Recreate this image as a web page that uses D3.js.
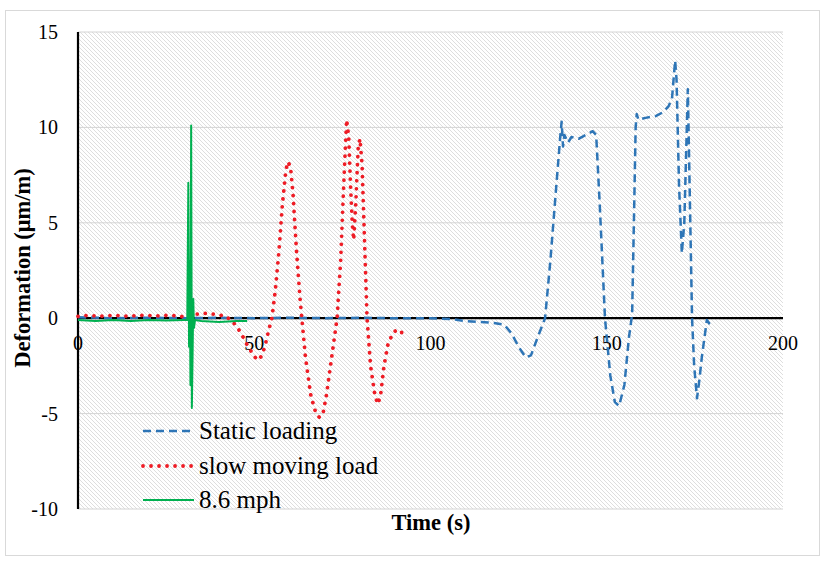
<!DOCTYPE html>
<html>
<head>
<meta charset="utf-8">
<script src="https://cdn.jsdelivr.net/npm/d3@7"></script>
<style>
  html, body { margin: 0; padding: 0; background: #fff; }
  svg { display: block; }
</style>
</head>
<body>
<svg id="chart" width="825" height="562"></svg>
<script>
// ---- Data ----
const staticT = [0, 10, 20, 30, 40, 50, 60, 70, 80, 90, 100, 106, 110, 114, 118, 121, 123, 125, 127, 128.5, 130, 132.5, 134, 135.5, 136.8, 137.2, 137.6, 138, 139, 140, 142, 144, 146, 147, 148, 149.5, 151, 152.3, 153.5, 155, 156.3, 157.2, 157.8, 158.2, 158.5, 159, 161, 164, 166, 167.5, 168.5, 169.4, 169.8, 170.5, 171.3, 172, 173.0, 173.4, 174.2, 174.8, 175.6, 176.3, 177.0, 178.4, 179.2, 180.3];
const staticV = [0.05, 0.0, 0.03, 0.0, 0.02, 0.0, 0.03, 0.0, 0.02, 0.0, 0.0, -0.05, -0.15, -0.2, -0.25, -0.35, -0.8, -1.5, -2.05, -1.95, -1.2, 0.0, 3.0, 6.5, 9.5, 10.3, 9.0, 9.6, 9.2, 9.5, 9.4, 9.6, 9.8, 9.6, 6.0, 0.0, -3.0, -4.4, -4.6, -3.5, -1.0, 0.2, 6.0, 10.0, 10.7, 10.4, 10.5, 10.6, 10.8, 11.1, 11.5, 13.5, 12.5, 7.0, 3.4, 5.0, 12.0, 8.0, 0.0, -2.5, -4.2, -3.2, -2.0, -0.1, -0.3, -0.45];

const slowT = [0, 3, 6, 10, 14, 18, 22, 26, 29, 31, 33, 36, 39, 42, 44, 46, 48, 50, 51, 52, 53, 54, 55, 56, 57, 58, 59, 59.6, 60.3, 61, 62, 63, 63.5, 64.5, 66, 67.5, 68.5, 69.5, 70.5, 72, 73.5, 74.5, 75.5, 76.2, 76.8, 77.3, 77.8, 78.2, 78.8, 79.5, 80, 80.6, 81.3, 82, 83, 84.2, 85, 85.8, 86.8, 88, 89.5, 90.5, 91.5, 92.5];
const slowV = [0.1, 0.15, 0.1, 0.15, 0.1, 0.15, 0.12, 0.15, 0.1, 0.05, 0.2, 0.25, 0.2, 0.1, -0.2, -0.7, -1.4, -2.0, -2.2, -2.0, -1.5, -0.7, 0.0, 1.5, 3.5, 6.0, 7.8, 8.2, 7.9, 6.5, 3.5, 1.0, 0.0, -2.0, -4.0, -5.0, -5.2, -5.0, -4.0, -2.0, 0.0, 3.0, 7.5, 10.4, 9.5, 7.0, 5.0, 4.1, 6.0, 9.0, 9.4, 8.0, 4.0, 0.0, -2.5, -4.0, -4.5, -4.1, -2.5, -1.3, -0.75, -0.6, -0.75, -0.75];

const fastT = [0, 5, 10, 15, 20, 25, 30, 31.0, 31.3, 31.5, 31.7, 31.9, 32.1, 32.3, 32.5, 32.7, 32.9, 33.2, 35, 40, 45, 48];
const fastV = [-0.1, -0.15, -0.1, -0.15, -0.1, -0.12, -0.1, -0.1, 7.1, -1.5, 3.0, -3.5, 10.1, -4.7, -2.0, 1.0, -0.5, -0.1, -0.15, -0.2, -0.15, -0.15];

const xTicks = [0, 50, 100, 150, 200];
const yTicks = [-10, -5, 0, 5, 10, 15];
const seriesNames = ["Static loading", "slow moving load", "8.6 mph"];

// ---- Layout ----
const FONT = "'Liberation Serif', 'Times New Roman', Times, serif";
const svg = d3.select("#chart");
const pL = 78, pR = 783, pT = 32, pB = 509;
const x = d3.scaleLinear().domain([0, 200]).range([pL, pR]);
const y = d3.scaleLinear().domain([-10, 15]).range([pB, pT]);

// outer border
svg.append("rect").attr("x", 5.5).attr("y", 10.5).attr("width", 814).attr("height", 545)
  .attr("fill", "#fff").attr("stroke", "#d9d9d9").attr("stroke-width", 1);

// hatch pattern
const defs = svg.append("defs");
const pat = defs.append("pattern").attr("id", "hatch").attr("patternUnits", "userSpaceOnUse")
  .attr("width", 4).attr("height", 4);
pat.append("rect").attr("width", 4).attr("height", 4).attr("fill", "#ffffff");
pat.append("path").attr("d", "M-1,-1 L5,5 M-1,3 L1,5 M3,-1 L5,1")
  .attr("stroke", "#d6d6d6").attr("stroke-width", 0.8);

svg.append("rect").attr("x", pL).attr("y", pT).attr("width", pR - pL).attr("height", pB - pT)
  .attr("fill", "url(#hatch)");

// gridlines
svg.append("g").selectAll("line").data(yTicks.filter(d => d !== 0)).join("line")
  .attr("x1", pL).attr("x2", pR).attr("y1", d => y(d)).attr("y2", d => y(d))
  .attr("stroke", "#d4d4d4").attr("stroke-width", 1);

// y tick labels
svg.append("g").selectAll("text").data(yTicks).join("text")
  .attr("x", 58).attr("y", d => y(d)).attr("dy", "0.35em").attr("text-anchor", "end")
  .attr("font-family", FONT).attr("font-size", 20).text(d => d);

// x tick labels (below zero line)
svg.append("g").selectAll("text").data(xTicks).join("text")
  .attr("x", d => x(d)).attr("y", y(0) + 32).attr("text-anchor", "middle")
  .attr("font-family", FONT).attr("font-size", 20).text(d => d);

// axes lines
svg.append("line").attr("x1", pL).attr("x2", pL).attr("y1", pT).attr("y2", pB)
  .attr("stroke", "#000").attr("stroke-width", 2.2);
svg.append("line").attr("x1", pL).attr("x2", pR).attr("y1", y(0)).attr("y2", y(0))
  .attr("stroke", "#000").attr("stroke-width", 2.2);

// series
const line = d3.line().x(d => x(d[0])).y(d => y(d[1]));
const styles = [
  { color: "#2e75b6", width: 2.5, dash: "8,5", cap: "butt" },
  { color: "#ee1c25", width: 3.8, dash: "0.01,8", cap: "round" },
  { color: "#00b050", width: 2, dash: null, cap: "butt" }
];
const series = [
  d3.zip(staticT, staticV),
  d3.zip(slowT, slowV),
  d3.zip(fastT, fastV)
];
series.forEach((s, i) => {
  svg.append("path").datum(s).attr("d", line)
    .attr("fill", "none").attr("stroke", styles[i].color)
    .attr("stroke-width", styles[i].width)
    .attr("stroke-dasharray", styles[i].dash)
    .attr("stroke-linecap", styles[i].cap)
    .attr("stroke-linejoin", "round");
});

// legend
const legY = [431, 466, 500];
seriesNames.forEach((name, i) => {
  svg.append("line").attr("x1", 143).attr("x2", 194).attr("y1", legY[i]).attr("y2", legY[i])
    .attr("stroke", styles[i].color).attr("stroke-width", styles[i].width)
    .attr("stroke-dasharray", styles[i].dash).attr("stroke-linecap", styles[i].cap);
  svg.append("text").attr("x", 199).attr("y", legY[i]).attr("dy", "0.33em")
    .attr("font-family", FONT).attr("font-size", 25).text(name);
});

// axis titles
svg.append("text").attr("x", 431).attr("y", 530).attr("text-anchor", "middle")
  .attr("font-family", FONT).attr("font-size", 22.5).attr("font-weight", "bold").text("Time (s)");
svg.append("text").attr("transform", "translate(30,268) rotate(-90)").attr("text-anchor", "middle")
  .attr("font-family", FONT).attr("font-size", 22.5).attr("font-weight", "bold").text("Deformation (μm/m)");
</script>
</body>
</html>
